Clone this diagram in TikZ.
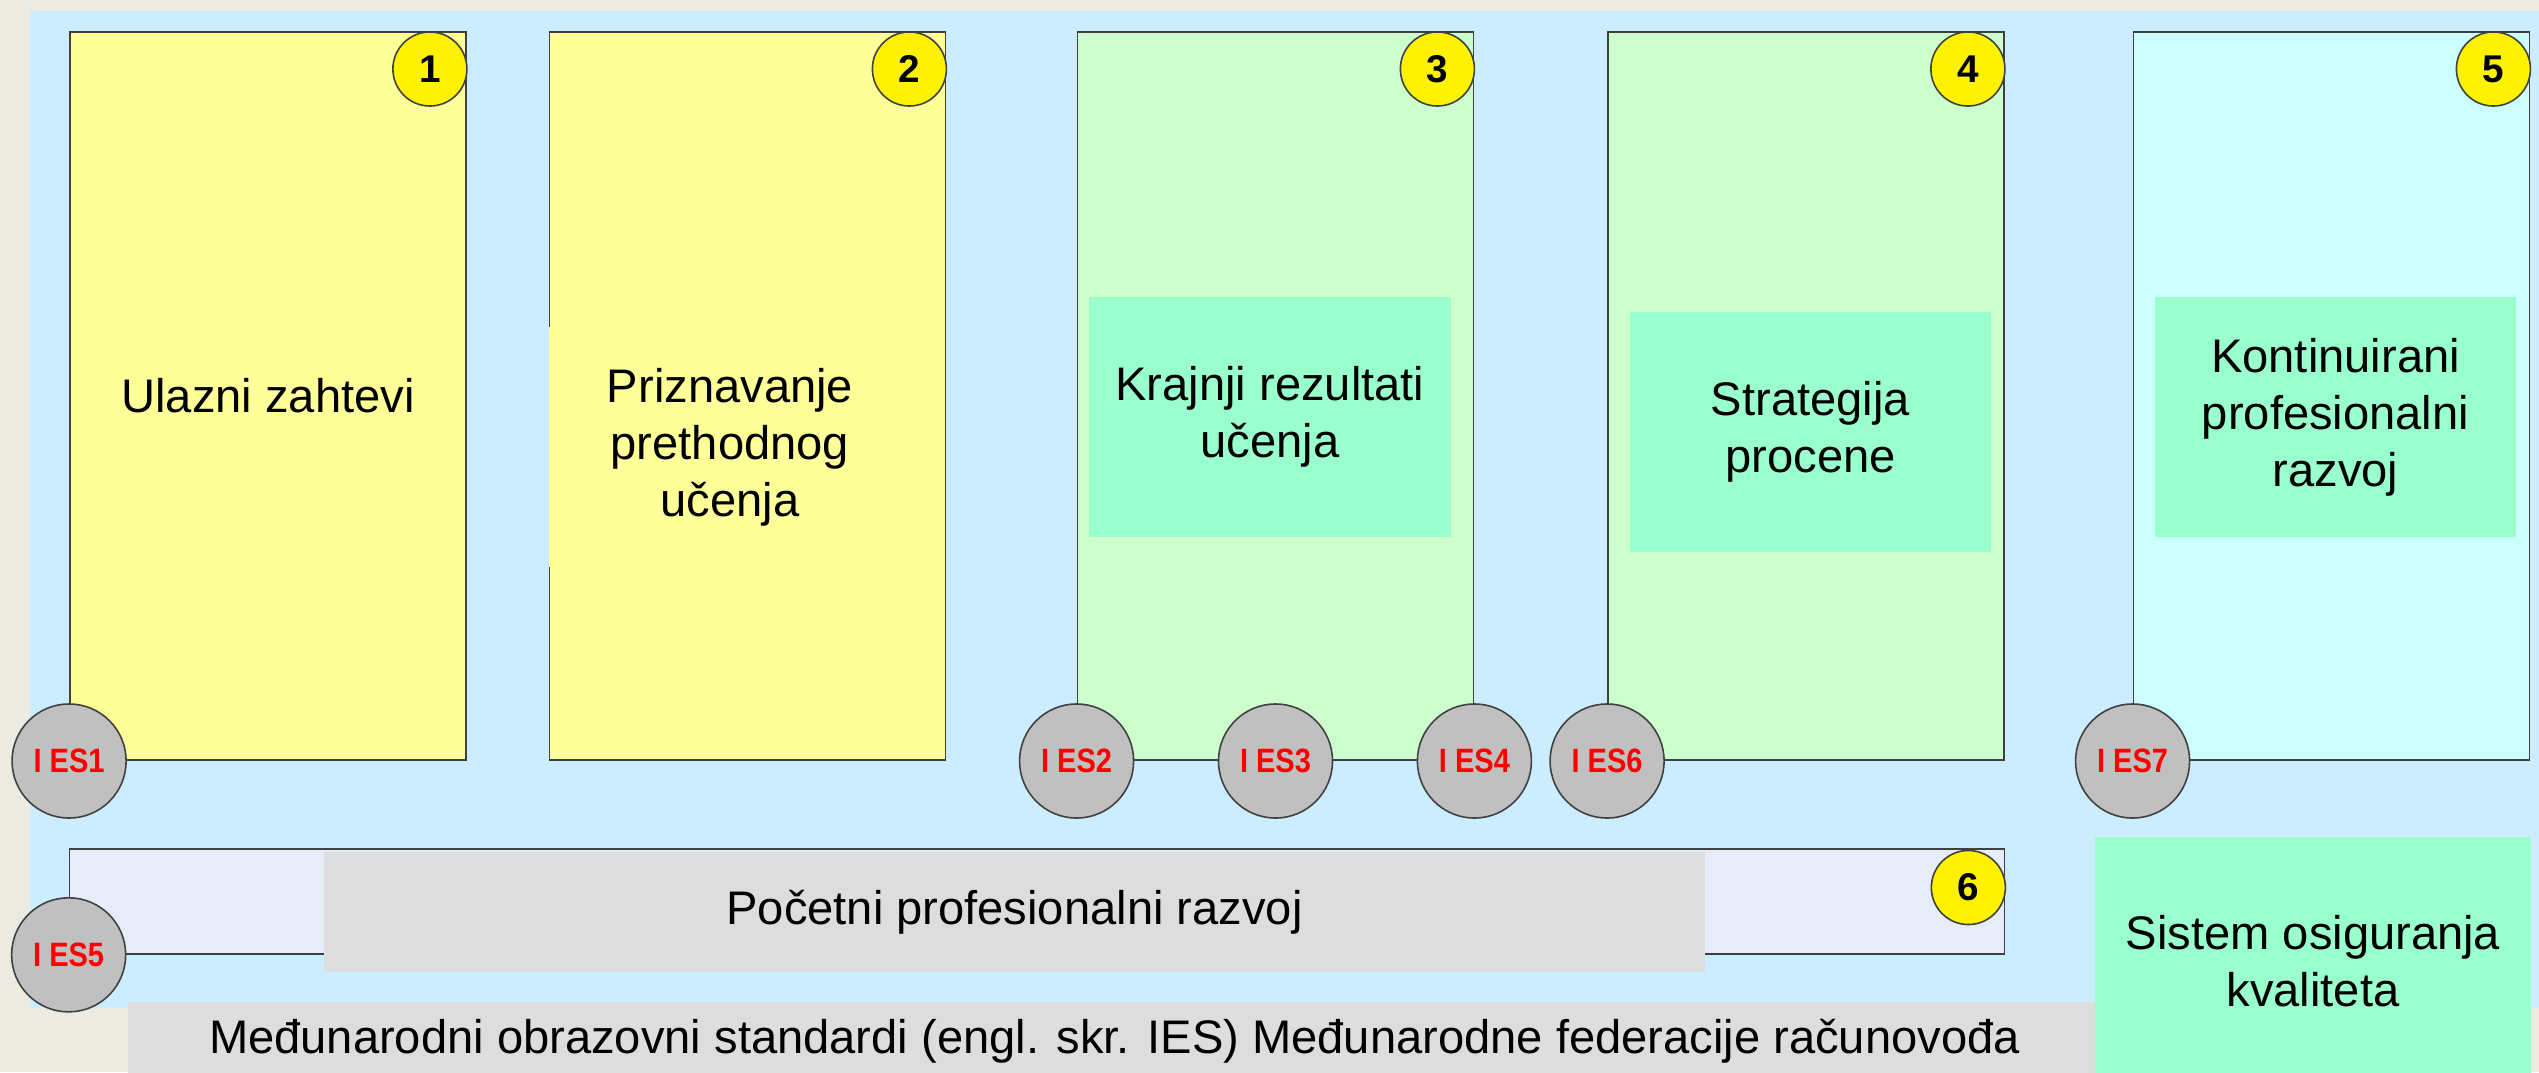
\documentclass[tikz,border=0pt]{standalone}
\usepackage{fontspec}
\usepackage{graphicx}
\setmainfont{Liberation Sans}
\usetikzlibrary{calc}

\definecolor{papir}{HTML}{EBEBE1}
\definecolor{pozadina}{HTML}{CCECFF}
\definecolor{zuta}{HTML}{FFFF99}
\definecolor{zelena}{HTML}{CCFFCC}
\definecolor{tirkiz}{HTML}{CCFFFF}
\definecolor{mint}{HTML}{99FFCC}
\definecolor{lavanda}{HTML}{E6EDF8}
\definecolor{siva}{HTML}{DDDDDD}
\definecolor{krug}{HTML}{C0C0C0}
\definecolor{ivica}{HTML}{404040}

\newcommand{\tekstfont}{\fontsize{13.4}{16.2}\selectfont}
\newcommand{\brojfont}{\fontsize{11}{12}\selectfont\bfseries}
\newcommand{\iesfnt}{\fontsize{9.6}{10}\selectfont\bfseries}
\newcommand{\iesoznaka}[1]{\scalebox{0.86}[1]{#1}}

\tikzset{
  stub/.style={draw=ivica, line width=0.45pt, inner sep=0pt, minimum width=3.96cm, minimum height=7.28cm, align=center, font=\tekstfont},
  polje/.style={inner sep=0pt, align=center, font=\tekstfont},
  ies/.style={circle, draw=ivica, line width=0.45pt, fill=krug, minimum size=1.14cm, inner sep=0pt, text=red, font=\iesfnt},
  broj/.style={circle, draw=ivica, line width=0.45pt, fill=yellow, minimum size=0.74cm, inner sep=0pt, font=\brojfont},
}

\begin{document}
\begin{tikzpicture}[x=0.01cm, y=-0.01cm]
  \useasboundingbox[fill=papir] (0,0) rectangle (2539,1072);
  \fill[pozadina] (30,11) rectangle (2539,1008);

  \node[stub, fill=zuta] (ulaz) at (268,396) {Ulazni zahtevi};
  \node[stub, fill=zuta] (prizn) at (747.5,396) {};
  \node[stub, fill=zelena] (ishod) at (1275.5,396) {};
  \node[stub, fill=zelena] (proc) at (1806,396) {};
  \node[stub, fill=tirkiz] (kpr) at (2331.5,396) {};

  \node[polje, fill=zuta, minimum width=3.62cm, minimum height=2.4cm] (priznt) at (730,447) {Priznavanje\\prethodnog\\učenja};
  \node[polje, fill=mint, minimum width=3.62cm, minimum height=2.4cm] (ishodt) at (1270,417) {Krajnji rezultati\\učenja};
  \node[polje, fill=mint, minimum width=3.61cm, minimum height=2.4cm] (proct) at (1810.5,432) {Strategija\\procene};
  \node[polje, fill=mint, minimum width=3.61cm, minimum height=2.4cm] (kprt) at (2335.5,417) {Kontinuirani\\profesionalni\\razvoj};

  \node[draw=ivica, line width=0.45pt, fill=lavanda, minimum width=19.34cm, minimum height=1.05cm, inner sep=0pt] (ppr) at (1037,901.5) {};
  \node[polje, fill=siva, minimum width=13.81cm, minimum height=1.2cm] (pprt) at (1014.5,912) {Početni profesionalni razvoj};
  \node[polje, fill=siva, minimum width=19.71cm, minimum height=0.78cm] (ifac) at (1114.5,1041) {Međunarodni obrazovni standardi (engl. skr. IES) Međunarodne federacije računovođa};
  \node[polje, fill=mint, minimum width=4.36cm, minimum height=2.49cm] (kval) at (2313,961.5) {Sistem osiguranja\\kvaliteta};

  \node[ies] (ies1) at (ulaz.south west) {\iesoznaka{I ES1}};
  \node[ies] (ies2) at (ishod.south west) {\iesoznaka{I ES2}};
  \node[ies] (ies3) at (ishod.south) {\iesoznaka{I ES3}};
  \node[ies] (ies4) at (ishod.south east) {\iesoznaka{I ES4}};
  \node[ies] (ies6) at (proc.south west) {\iesoznaka{I ES6}};
  \node[ies] (ies7) at (kpr.south west) {\iesoznaka{I ES7}};
  \node[ies] (ies5) at (ppr.south west) {\iesoznaka{I ES5}};

  \foreach \b/\n in {ulaz/1, prizn/2, ishod/3, proc/4, kpr/5}
    \node[broj] (n\n) at ($(\b.north east)+(-37,38)$) {\n};
  \node[broj] (n6) at ($(ppr.east)+(-37,-14)$) {6};
\end{tikzpicture}
\end{document}
